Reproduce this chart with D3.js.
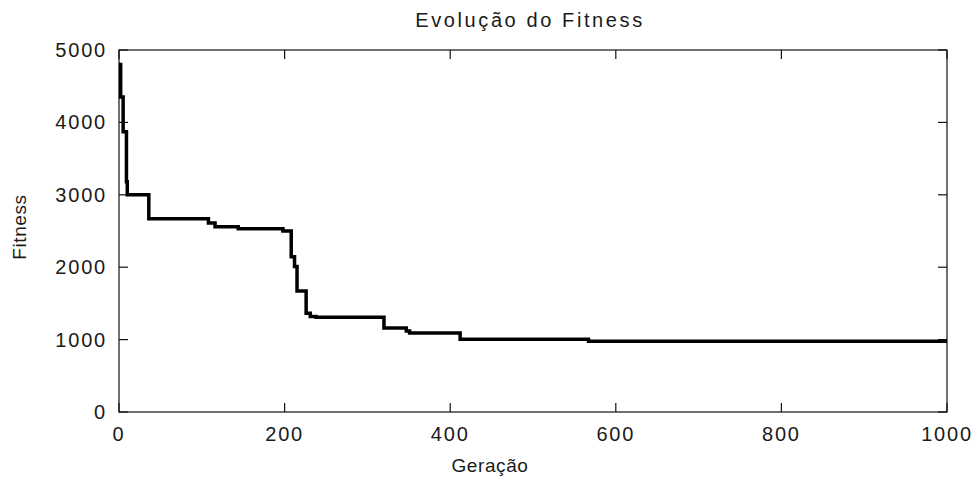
<!DOCTYPE html>
<html>
<head>
<meta charset="utf-8">
<script src="https://cdn.jsdelivr.net/npm/d3@7"></script>
<style>
  html, body { margin: 0; padding: 0; background: #fff; }
  svg { display: block; }
  text { font-family: "Liberation Sans", Arial, sans-serif; fill: #1a1a1a; }
</style>
</head>
<body>
<svg id="chart" width="978" height="482"></svg>
<script>
// Best fitness per generation: generation at which the value changes, and the new value
const generations = [0, 2, 5, 9, 10, 36, 108, 116, 144, 198, 208, 212, 215, 226, 231, 238, 320, 347, 351, 412, 567, 1000];
const fitness     = [4800, 4350, 3870, 3180, 3000, 2670, 2610, 2560, 2530, 2500, 2145, 2010, 1670, 1365, 1318, 1308, 1160, 1120, 1090, 1005, 978, 978];

const xTicks = [0, 200, 400, 600, 800, 1000];
const yTicks = [0, 1000, 2000, 3000, 4000, 5000];

const titleText = "Evolução do Fitness";
const xLabel = "Geração";
const yLabel = "Fitness";

const svg = d3.select("#chart");
const margin = { left: 119, right: 31, top: 50, bottom: 70 };
const W = 978, H = 482;

const x = d3.scaleLinear().domain([0, 1000]).range([margin.left, W - margin.right]);
const y = d3.scaleLinear().domain([0, 5000]).range([H - margin.bottom, margin.top]);

const tickLen = 9;
const fontSize = 20;
const spacing = 1.8;

// plot box
svg.append("rect")
  .attr("x", x(0)).attr("y", y(5000))
  .attr("width", x(1000) - x(0)).attr("height", y(0) - y(5000))
  .attr("fill", "none").attr("stroke", "#111").attr("stroke-width", 1.2);

// inward ticks on all four sides
const tickG = svg.append("g").attr("stroke", "#111").attr("stroke-width", 1.2);
xTicks.forEach(t => {
  tickG.append("line").attr("x1", x(t)).attr("x2", x(t)).attr("y1", y(0)).attr("y2", y(0) - tickLen);
  tickG.append("line").attr("x1", x(t)).attr("x2", x(t)).attr("y1", y(5000)).attr("y2", y(5000) + tickLen);
});
yTicks.forEach(t => {
  tickG.append("line").attr("x1", x(0)).attr("x2", x(0) + tickLen).attr("y1", y(t)).attr("y2", y(t));
  tickG.append("line").attr("x1", x(1000)).attr("x2", x(1000) - tickLen).attr("y1", y(t)).attr("y2", y(t));
});

// tick labels
svg.append("g").selectAll("text").data(xTicks).join("text")
  .attr("x", d => x(d)).attr("y", y(0) + 29)
  .attr("text-anchor", "middle")
  .style("font-size", fontSize + "px").style("letter-spacing", spacing + "px")
  .text(d => d);

svg.append("g").selectAll("text").data(yTicks).join("text")
  .attr("x", x(0) - 12).attr("y", d => y(d) + 7)
  .attr("text-anchor", "end")
  .style("font-size", fontSize + "px").style("letter-spacing", spacing + "px")
  .text(d => d);

// fitness curve as a staircase
const line = d3.line()
  .x((d, i) => x(generations[i]))
  .y((d, i) => y(fitness[i]))
  .curve(d3.curveStepAfter);

svg.append("path")
  .datum(fitness)
  .attr("d", line)
  .attr("fill", "none")
  .attr("stroke", "#000")
  .attr("stroke-width", 3.5)
  .attr("stroke-linejoin", "miter");

// title and axis labels
svg.append("text")
  .attr("x", 530).attr("y", 27)
  .attr("text-anchor", "middle")
  .style("font-size", fontSize + "px").style("letter-spacing", "2.6px")
  .text(titleText);

svg.append("text")
  .attr("x", 490).attr("y", 472)
  .attr("text-anchor", "middle")
  .style("font-size", "19px").style("letter-spacing", "0.6px")
  .text(xLabel);

svg.append("text")
  .attr("transform", `translate(26, ${(y(0) + y(5000)) / 2 - 4}) rotate(-90)`)
  .attr("text-anchor", "middle")
  .style("font-size", "19px").style("letter-spacing", "0.6px")
  .text(yLabel);
</script>
</body>
</html>
